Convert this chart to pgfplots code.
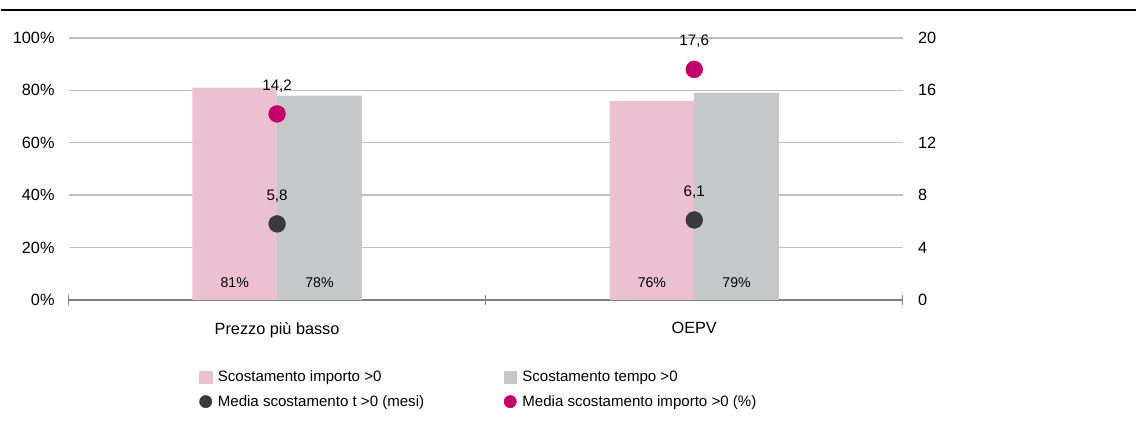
\documentclass[border=0pt]{standalone}
\usepackage{pgfplots}
\pgfplotsset{compat=1.18}
\usepackage{fontspec}
\setmainfont{Liberation Sans}

\definecolor{pinkbar}{HTML}{EBC1D2}
\definecolor{graybar}{HTML}{C6C7C9}
\definecolor{magdot}{HTML}{C4006A}
\definecolor{darkdot}{HTML}{3A3A3C}
\definecolor{gridgray}{HTML}{BFBFBF}
\definecolor{axisgray}{HTML}{7F7F7F}

\begin{document}
\begin{tikzpicture}
\pgfplotsset{
  every axis/.append style={
    scale only axis, width=626pt, height=196.5pt,
    xmin=-0.5, xmax=1.5,
    font=\fontsize{12.2}{14}\selectfont,
    /pgf/number format/assume math mode=true,
  },
}
% bars, left axis
\begin{axis}[
    ybar=0pt, bar width=0.203,
    ymin=0, ymax=100,
    axis x line*=bottom, axis y line*=left,
    y axis line style={draw=none},
    x axis line style={draw=axisgray, line width=1.2pt, -},
    ytick={0,20,...,100},
    yticklabel={\pgfmathprintnumber{\tick}\%},
    ymajorgrids, grid style={draw=gridgray, line width=1pt},
    major y tick style={draw=none},
    yticklabel style={xshift=-7pt},
    xtick={0,1}, xticklabels={Prezzo più basso, OEPV},
    major x tick style={draw=none},
    xticklabel style={yshift=-9pt},
    extra x ticks={-0.5,0.5,1.5}, extra x tick labels={},
    extra x tick style={grid=none, major tick length=7pt, tick align=center,
      major x tick style={draw=axisgray, line width=0.8pt}},
    clip=false,
    visualization depends on=y \as \rawy,
    nodes near coords={\pgfmathprintnumber{\rawy}\%},
    every node near coord/.append style={shift={(axis direction cs:0,-\rawy)},
      anchor=south, yshift=6pt, font=\fontsize{10.6}{12}\selectfont},
  ]
  \addplot[fill=pinkbar, draw=none] coordinates {(0,81) (1,76)};
  \addplot[fill=graybar, draw=none] coordinates {(0,78) (1,79)};
  \draw[black, line width=0.9pt] (rel axis cs:-0.0814,1.107) -- (rel axis cs:1.280,1.107);
  \path (rel axis cs:-0.0814,-0.477) rectangle (rel axis cs:1.280,1.145);
\end{axis}
% dots, right axis
\begin{axis}[
    ymin=0, ymax=20,
    axis x line=none, axis y line*=right,
    y axis line style={draw=none},
    ytick={0,4,...,20},
    major y tick style={draw=none},
    yticklabel style={xshift=8pt},
    clip=false,
    nodes near coords={\pgfmathprintnumber[fixed,fixed zerofill,precision=1,use comma]{\pgfplotspointmeta}},
    every node near coord/.append style={anchor=center, yshift=21pt, text=black,
      font=\fontsize{11.4}{13}\selectfont},
    legend columns=2,
    legend cell align=left,
    legend image post style={mark size=4.6pt},
    legend image code/.code={\draw[#1] plot coordinates {(0.1cm,0cm)};},
    legend style={draw=none, fill=none, anchor=north west,
      at={(rel axis cs:0.152,-0.25)},
      font=\fontsize{11.3}{13}\selectfont,
      row sep=4.5pt,
      /tikz/every odd column/.append style={column sep=2.5pt},
      /tikz/every even column/.append style={column sep=58pt}},
  ]
  \addlegendimage{only marks, mark=square*, mark options={draw=pinkbar, fill=pinkbar}}
  \addlegendimage{only marks, mark=square*, mark options={draw=graybar, fill=graybar}}
  \addplot[only marks, mark=*, mark size=6.3pt, color=darkdot] coordinates {(0,5.8) (1,6.1)};
  \addplot[only marks, mark=*, mark size=6.3pt, color=magdot] coordinates {(0,14.2) (1,17.6)};
  \legend{Scostamento importo >0, Scostamento tempo >0,
    Media scostamento t >0 (mesi), Media scostamento importo >0 (\%)}
\end{axis}
\end{tikzpicture}
\end{document}
